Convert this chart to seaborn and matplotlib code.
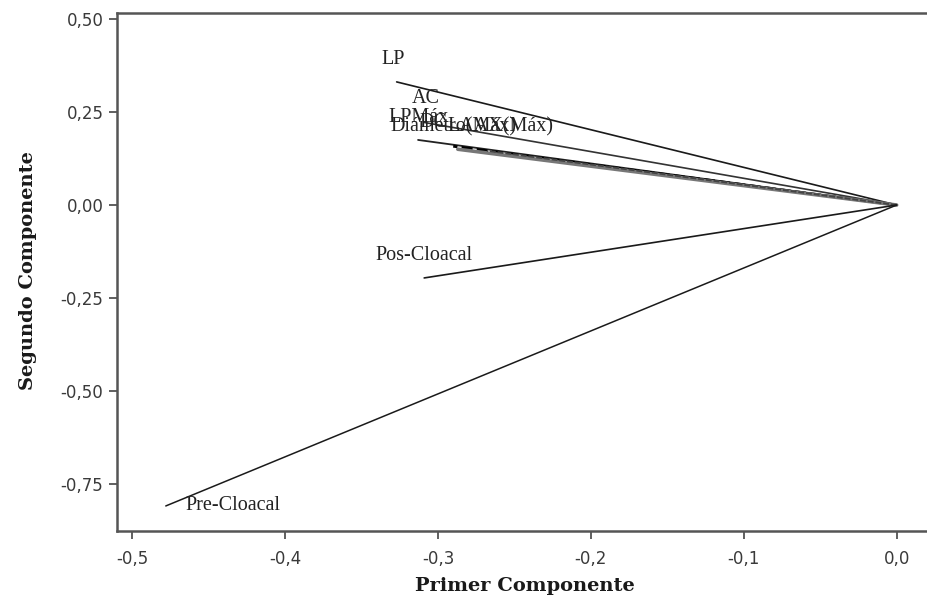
import numpy as np
import pandas as pd
import seaborn as sns
import matplotlib.pyplot as plt
from matplotlib.ticker import FuncFormatter, FixedLocator

# Component loadings (first, second component)
variables = ["LP", "AC", "LPMáx", "DC", "Diámetro(Máx)", "LAAX(Máx)",
             "Pos-Cloacal", "Pre-Cloacal"]
comp1 = [-0.327, -0.309, -0.313, -0.290, -0.287, -0.268, -0.309, -0.478]
comp2 = [0.331, 0.222, 0.175, 0.158, 0.150, 0.146, -0.196, -0.809]

x_ticks = [-0.5, -0.4, -0.3, -0.2, -0.1, 0.0]
y_ticks = [-0.75, -0.50, -0.25, 0.00, 0.25, 0.50]

sns.set_theme(style="white")
plt.rcParams["font.family"] = ["Liberation Serif", "DejaVu Serif"]

# one segment per variable: origin -> loading
rows = []
for name, a, b in zip(variables, comp1, comp2):
    rows.append({"variable": name, "x": 0.0, "y": 0.0, "step": 0})
    rows.append({"variable": name, "x": a, "y": b, "step": 1})
df = pd.DataFrame(rows)

fig = plt.figure(figsize=(9.28, 6.0), dpi=100)
ax = fig.add_axes([0.1264, 0.1155, 0.8736, 0.8633])

line_styles = {
    "LP": ("#1a1a1a", 1.2, "-"),
    "AC": ("#333333", 1.2, "-"),
    "LPMáx": ("#222222", 1.3, "-"),
    "DC": ("black", 2.0, (0, (4, 1.5))),
    "Diámetro(Máx)": ("#777777", 2.6, "-"),
    "LAAX(Máx)": ("#444444", 1.4, (0, (3, 1))),
    "Pos-Cloacal": ("#1a1a1a", 1.2, "-"),
    "Pre-Cloacal": ("#1a1a1a", 1.1, "-"),
}
for name in variables:
    color, lw, ls = line_styles[name]
    sns.lineplot(data=df[df.variable == name], x="x", y="y", sort=False,
                 estimator=None, color=color, linewidth=lw, linestyle=ls,
                 ax=ax, legend=False)

# label offsets in pixels (dx, dy, ha)
label_pos = {
    "LP": (-4, 22, "center"),
    "AC": (2, 24, "center"),
    "LPMáx": (0, 22, "center"),
    "DC": (-20, 24, "center"),
    "Diámetro(Máx)": (-4, 22, "center"),
    "LAAX(Máx)": (14, 24, "center"),
    "Pos-Cloacal": (0, 22, "center"),
    "Pre-Cloacal": (20, 0, "left"),
}
for name, a, b in zip(variables, comp1, comp2):
    dx, dy, ha = label_pos[name]
    ax.annotate(name, (a, b), xytext=(dx, dy), textcoords="offset pixels",
                ha=ha, va="center", fontsize=14.5, color="#222222")

ax.set_xlim(-0.5097, 0.0205)
ax.set_ylim(-0.8755, 0.517)
ax.xaxis.set_major_locator(FixedLocator(x_ticks))
ax.yaxis.set_major_locator(FixedLocator(y_ticks))
ax.xaxis.set_major_formatter(FuncFormatter(lambda v, p: f"{v:.1f}".replace(".", ",")))
ax.yaxis.set_major_formatter(FuncFormatter(lambda v, p: f"{v:.2f}".replace(".", ",")))
ax.tick_params(axis="both", direction="out", length=6, width=1.2,
               color="#444444", labelsize=12, labelcolor="#3a3a3a",
               bottom=True, left=True)
ax.tick_params(axis="x", pad=8)
ax.tick_params(axis="y", pad=4)
for lab in ax.get_xticklabels() + ax.get_yticklabels():
    lab.set_family("DejaVu Sans")

for side in ["left", "bottom", "top"]:
    ax.spines[side].set_color("#555555")
    ax.spines[side].set_linewidth(1.8)
ax.spines["right"].set_visible(False)

ax.set_xlabel("Primer Componente", fontsize=14, fontweight="bold",
              family="DejaVu Serif", color="#1a1a1a")
ax.set_ylabel("Segundo Componente", fontsize=14, fontweight="bold",
              family="DejaVu Serif", color="#1a1a1a")
ax.xaxis.label.set_va("center")
ax.yaxis.label.set_va("center")
ax.xaxis.set_label_coords(0.503, -0.107)
ax.yaxis.set_label_coords(-0.110, 0.503)

fig.savefig("out.png", dpi=100)
